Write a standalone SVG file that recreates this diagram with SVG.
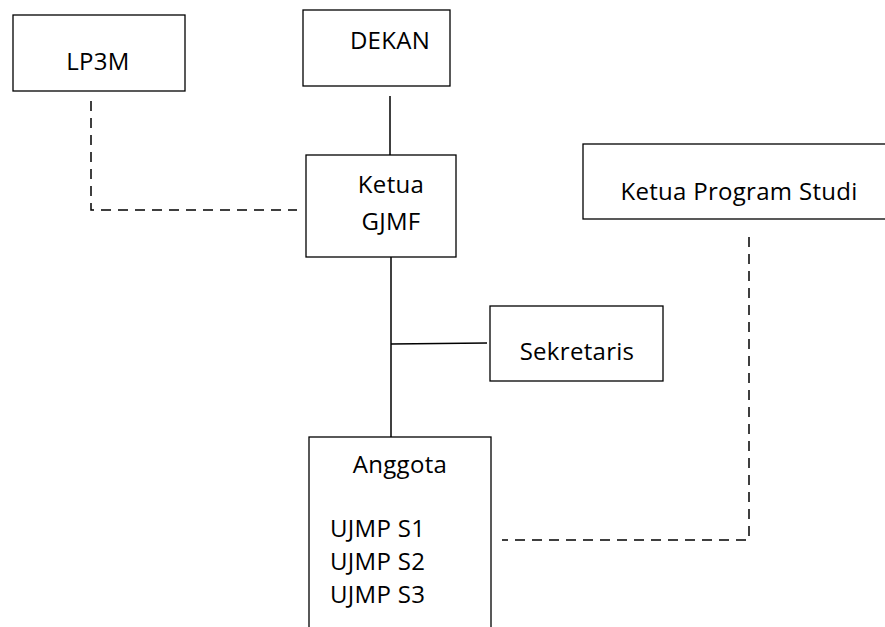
<svg xmlns="http://www.w3.org/2000/svg" width="885" height="627" viewBox="0 0 885 627">
<style>
.box{fill:#fff;stroke:#000;stroke-width:1.3}
.t{font-family:"Open Sans","Liberation Sans",sans-serif;font-size:24px;letter-spacing:0.3px;fill:#000}
.solid{stroke:#000;stroke-width:1.5;fill:none}
.dash{stroke:#000;stroke-width:1.5;fill:none;stroke-dasharray:10 7}
</style>
<rect width="885" height="627" fill="#fff"/>
<g id="connectors">
<line class="solid" x1="390" y1="96" x2="390" y2="155"/>
<line class="solid" x1="391" y1="257" x2="391" y2="437"/>
<line class="solid" x1="391" y1="344" x2="487" y2="343"/>
<polyline class="dash" points="91,101 91,210 297,210"/>
<polyline class="dash" points="749,237 749,540 502,540"/>
</g>
<g id="lp3m"><rect class="box" x="13" y="15" width="172" height="76"/><text class="t" x="98" y="70" text-anchor="middle">LP3M</text></g>
<g id="dekan"><rect class="box" x="303" y="10" width="147" height="76"/><text class="t" x="390" y="49" text-anchor="middle">DEKAN</text></g>
<g id="ketua-gjmf"><rect class="box" x="306" y="155" width="150" height="102"/><text class="t" x="391" y="193" text-anchor="middle">Ketua</text><text class="t" x="391" y="230" text-anchor="middle">GJMF</text></g>
<g id="kaprodi"><rect class="box" x="583" y="144" width="310" height="75"/><text class="t" x="739" y="200" text-anchor="middle">Ketua Program Studi</text></g>
<g id="sekretaris"><rect class="box" x="490" y="306" width="173" height="75"/><text class="t" x="577" y="360" text-anchor="middle">Sekretaris</text></g>
<g id="anggota"><rect class="box" x="309" y="437" width="182" height="200"/><text class="t" x="400" y="473" text-anchor="middle">Anggota</text><text class="t" x="330" y="537">UJMP S1</text><text class="t" x="330" y="570">UJMP S2</text><text class="t" x="330" y="603">UJMP S3</text></g>
</svg>
